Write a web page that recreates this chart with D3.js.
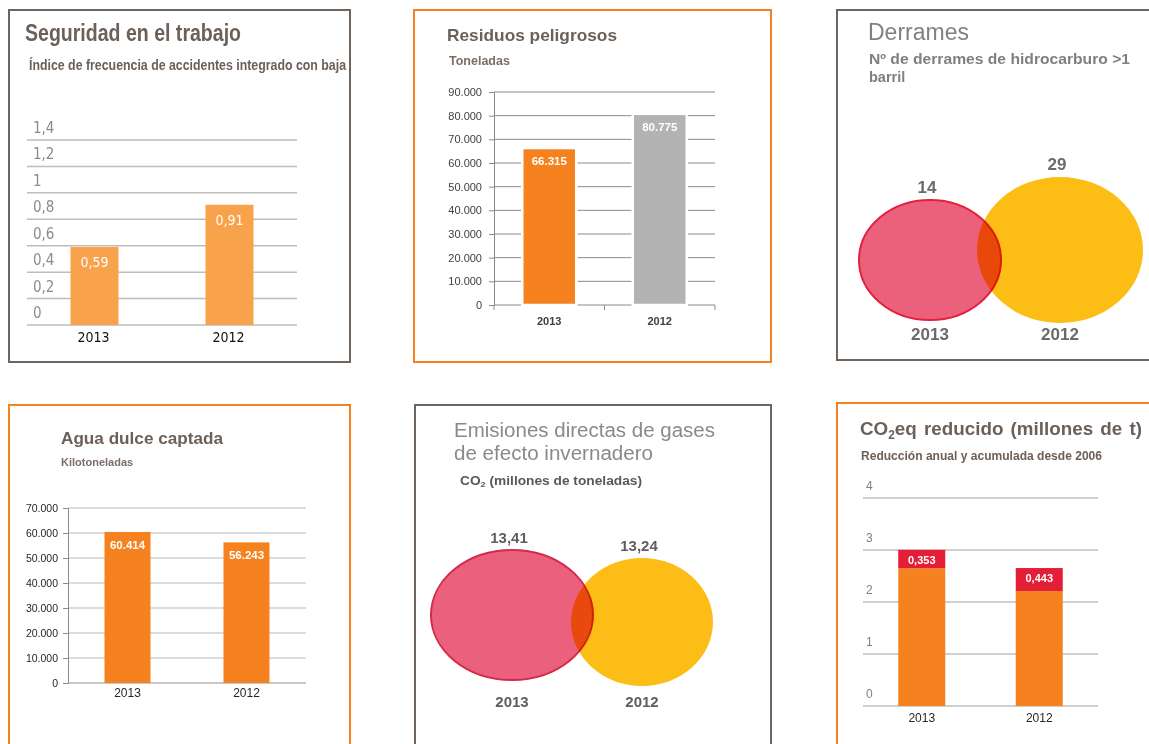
<!DOCTYPE html>
<html>
<head>
<meta charset="utf-8">
<script src="https://cdn.jsdelivr.net/npm/d3@7"></script>
<style>
  body { margin: 0; background: #fff; }
  svg { display: block; }
</style>
</head>
<body>
<svg id="chart" width="1149" height="744"></svg>
<script>
// ---- Data ----
const years = ["2013", "2012"];

const seguridadTicks = [0, 0.2, 0.4, 0.6, 0.8, 1, 1.2, 1.4];
const seguridadValues = [0.59, 0.91];

const residuosTicks = [0, 10000, 20000, 30000, 40000, 50000, 60000, 70000, 80000, 90000];
const residuosValues = [66315, 80775];

const derramesValues = [14, 29];

const aguaTicks = [0, 10000, 20000, 30000, 40000, 50000, 60000, 70000];
const aguaValues = [60414, 56243];

const emisionesValues = [13.41, 13.24];

const co2Ticks = [0, 1, 2, 3, 4];
const co2Acumulada = [2.65, 2.21];
const co2Anual = [0.353, 0.443];

// ---- Styles ----
const ORANGE = "#F5821F";
const BROWN = "#6F655C";
const TITLE = "#6C6058";
const SANS = "'Liberation Sans', Arial, sans-serif";
const NARROW = "'Liberation Sans Narrow', 'Arial Narrow', 'DejaVu Sans Condensed', sans-serif";

const es = d3.formatLocale({ decimal: ",", thousands: ".", grouping: [3], currency: ["", " €"] });
const fmtThousands = es.format(",d");
const fmtDec1 = es.format(".1~f");
const fmtDec2 = es.format(".2f");
const fmtDec3 = es.format(".3f");

const svg = d3.select("#chart");

// soft focus used by the emissions panel
svg.append("defs").append("filter").attr("id", "soft")
  .append("feGaussianBlur").attr("stdDeviation", 0.55);

function label(g, o) {
  const t = g.append("text")
    .attr("x", o.x).attr("y", o.y)
    .attr("font-family", o.family || SANS)
    .attr("font-size", o.size)
    .attr("font-weight", o.weight || "normal")
    .attr("fill", o.fill || "#000")
    .attr("text-anchor", o.anchor || "start")
    .text(o.text);
  if (o.fit) t.attr("textLength", o.fit).attr("lengthAdjust", "spacingAndGlyphs");
  return t;
}

function frame(g, x, y, w, h, color) {
  g.append("rect").attr("x", x).attr("y", y).attr("width", w).attr("height", h)
    .attr("fill", "none").attr("stroke", color).attr("stroke-width", 2);
}

// ---- 1. Seguridad en el trabajo ----
{
  const g = svg.append("g");
  frame(g, 9, 10, 341, 352, BROWN);
  label(g, { x: 25, y: 41, text: "Seguridad en el trabajo", size: 23, weight: "bold", fill: TITLE, fit: 216 });
  label(g, { x: 29, y: 70, text: "Índice de frecuencia de accidentes integrado con baja", size: 14, weight: "bold", fill: TITLE, fit: 317 });

  const y = d3.scaleLinear().domain([0, 1.4]).range([325, 140]);
  const x = d3.scalePoint().domain(years).range([27, 297]).padding(0.5);

  seguridadTicks.forEach(t => {
    g.append("line").attr("x1", 27).attr("x2", 297).attr("y1", y(t)).attr("y2", y(t))
      .attr("stroke", "#BDBDBD").attr("stroke-width", 1.5);
    label(g, { x: 33, y: y(t) - 7, text: fmtDec1(t), size: 15, family: NARROW, fill: "#8C8C8C" });
  });

  const data = years.map((yr, i) => ({ yr, v: seguridadValues[i] }));
  g.selectAll(".bar").data(data).join("rect")
    .attr("x", d => x(d.yr) - 24).attr("width", 48)
    .attr("y", d => y(d.v)).attr("height", d => y(0) - y(d.v))
    .attr("fill", "#F8A34B");
  data.forEach(d => {
    label(g, { x: x(d.yr), y: y(d.v) + 20, text: fmtDec2(d.v), size: 14, family: NARROW, fill: "#fff", anchor: "middle" });
    label(g, { x: x(d.yr) - 1, y: 342, text: d.yr, size: 14, family: NARROW, fill: "#111", anchor: "middle" });
  });
}

// ---- 2. Residuos peligrosos ----
{
  const g = svg.append("g");
  frame(g, 414, 10, 357, 352, ORANGE);
  label(g, { x: 447, y: 41, text: "Residuos peligrosos", size: 17, weight: "bold", fill: TITLE, fit: 170 });
  label(g, { x: 449, y: 65, text: "Toneladas", size: 12.5, weight: "bold", fill: "#7A6F68" });

  const y = d3.scaleLinear().domain([0, 90000]).range([305, 92]);
  const x = d3.scaleBand().domain(years).range([494, 715]);

  residuosTicks.filter(t => t > 0).forEach(t => {
    g.append("line").attr("x1", 494).attr("x2", 715).attr("y1", y(t)).attr("y2", y(t))
      .attr("stroke", "#8A8A8A").attr("stroke-width", 1);
  });

  const ax = g.append("g").attr("transform", "translate(494,0)")
    .call(d3.axisLeft(y).tickValues(residuosTicks).tickSize(5).tickPadding(7).tickFormat(fmtThousands));
  ax.select(".domain").attr("stroke", "#8A8A8A");
  ax.selectAll(".tick line").attr("stroke", "#8A8A8A");
  ax.selectAll(".tick text").attr("font-family", SANS).attr("font-size", 11).attr("fill", "#404040");

  // category axis with boundary ticks
  const edges = years.map(d => x(d)).concat([x.range()[1]]);
  g.append("line").attr("x1", 494).attr("x2", 715).attr("y1", y(0)).attr("y2", y(0)).attr("stroke", "#8A8A8A");
  edges.forEach(e => g.append("line").attr("x1", e).attr("x2", e).attr("y1", y(0)).attr("y2", y(0) + 5).attr("stroke", "#8A8A8A"));

  const colors = [ORANGE, "#B3B3B3"];
  const data = years.map((yr, i) => ({ yr, v: residuosValues[i], c: colors[i] }));
  const cx = d => x(d.yr) + x.bandwidth() / 2;
  g.selectAll(".bar").data(data).join("rect")
    .attr("x", d => cx(d) - 27).attr("width", 54)
    .attr("y", d => y(d.v)).attr("height", d => y(0) - y(d.v))
    .attr("fill", d => d.c).attr("stroke", "#fff").attr("stroke-width", 2.5);
  data.forEach(d => {
    label(g, { x: cx(d), y: y(d.v) + 17, text: fmtThousands(d.v), size: 11.5, weight: "bold", fill: "#fff", anchor: "middle" });
    label(g, { x: cx(d), y: 325, text: d.yr, size: 11, weight: "bold", fill: "#404040", anchor: "middle" });
  });
}

// ---- Overlapping-circle panels ----
function venn(g, values, o) {
  const x = d3.scalePoint().domain(years).range(o.xRange).padding(0.5);
  const rx = d3.scaleLinear().domain(o.domain).range(o.rx);
  const ry = d3.scaleLinear().domain(o.domain).range(o.ry);
  const cy = d3.scaleLinear().domain(o.domain).range(o.cy);
  const data = years.map((yr, i) => ({ yr, v: values[i] }));
  const fills = { "2013": "#EB617B", "2012": "#FCBE14" };

  // 2012 first, 2013 blended over it
  const order = [data[1], data[0]];
  g.selectAll(".blob").data(order).join("ellipse")
    .attr("cx", d => x(d.yr)).attr("cy", d => cy(d.v))
    .attr("rx", d => rx(d.v)).attr("ry", d => ry(d.v))
    .attr("fill", d => fills[d.yr])
    .attr("stroke", d => d.yr === "2013" ? o.stroke : "none")
    .attr("stroke-width", 2)
    .style("mix-blend-mode", d => d.yr === "2013" ? "multiply" : "normal");

  data.forEach(d => {
    label(g, { x: x(d.yr) - 3, y: cy(d.v) - ry(d.v) - 7, text: o.fmt(d.v), size: o.size, weight: "bold", fill: o.textFill, anchor: "middle" });
    label(g, { x: x(d.yr), y: o.yearY, text: d.yr, size: o.size, weight: "bold", fill: o.textFill, anchor: "middle" });
  });
}

// ---- 3. Derrames ----
{
  const g = svg.append("g");
  frame(g, 837, 10, 330, 350, BROWN);
  label(g, { x: 868, y: 40, text: "Derrames", size: 23, fill: "#808080" });
  label(g, { x: 869, y: 64, text: "Nº de derrames de hidrocarburo >1", size: 14.5, weight: "bold", fill: "#7F7F7F", fit: 261 });
  label(g, { x: 869, y: 82, text: "barril", size: 14.5, weight: "bold", fill: "#7F7F7F" });
  venn(g, derramesValues, {
    xRange: [865, 1125], domain: d3.extent(derramesValues),
    rx: [71, 83], ry: [60, 73], cy: [260, 250],
    stroke: "#E3213F", size: 17, textFill: "#6A6A6A", yearY: 340,
    fmt: d3.format("d")
  });
}

// ---- 4. Agua dulce captada ----
{
  const g = svg.append("g");
  frame(g, 9, 405, 341, 360, ORANGE);
  label(g, { x: 61, y: 444, text: "Agua dulce captada", size: 17, weight: "bold", fill: TITLE, fit: 162 });
  label(g, { x: 61, y: 466, text: "Kilotoneladas", size: 11, weight: "bold", fill: "#7A6F68" });

  const y = d3.scaleLinear().domain([0, 70000]).range([683, 508]);
  const x = d3.scalePoint().domain(years).range([68, 306]).padding(0.5);

  aguaTicks.forEach(t => {
    g.append("line").attr("x1", 68).attr("x2", 306).attr("y1", y(t)).attr("y2", y(t))
      .attr("stroke", t === 0 ? "#C8C8C8" : "#DCDCDC").attr("stroke-width", 2);
  });
  const ax = g.append("g").attr("transform", "translate(68,0)")
    .call(d3.axisLeft(y).tickValues(aguaTicks).tickSize(5).tickPadding(5).tickFormat(fmtThousands));
  ax.select(".domain").attr("stroke", "#8A8A8A");
  ax.selectAll(".tick line").attr("stroke", "#8A8A8A");
  ax.selectAll(".tick text").attr("font-family", SANS).attr("font-size", 10.5).attr("fill", "#262626");

  const data = years.map((yr, i) => ({ yr, v: aguaValues[i] }));
  g.selectAll(".bar").data(data).join("rect")
    .attr("x", d => x(d.yr) - 23).attr("width", 46)
    .attr("y", d => y(d.v)).attr("height", d => y(0) - y(d.v))
    .attr("fill", ORANGE);
  data.forEach(d => {
    label(g, { x: x(d.yr), y: y(d.v) + 17, text: fmtThousands(d.v), size: 11.5, weight: "bold", fill: "#fff", anchor: "middle" });
    label(g, { x: x(d.yr), y: 697, text: d.yr, size: 12, fill: "#262626", anchor: "middle" });
  });
}

// ---- 5. Emisiones directas ----
{
  const g = svg.append("g").attr("filter", "url(#soft)");
  frame(g, 415, 405, 356, 360, BROWN);
  label(g, { x: 454, y: 437, text: "Emisiones directas de gases", size: 19.5, fill: "#8A8A8A", fit: 261 });
  label(g, { x: 454, y: 460, text: "de efecto invernadero", size: 19.5, fill: "#8A8A8A", fit: 199 });
  const sub = label(g, { x: 460, y: 485, text: "", size: 12, weight: "bold", fill: "#595959" });
  sub.append("tspan").text("CO");
  sub.append("tspan").attr("font-size", 8).attr("dy", 2).text("2");
  sub.append("tspan").attr("dy", -2).text(" (millones de toneladas)");
  sub.attr("textLength", 182).attr("lengthAdjust", "spacingAndGlyphs");
  venn(g, emisionesValues, {
    xRange: [447, 707], domain: [emisionesValues[1], emisionesValues[0]],
    rx: [71, 81], ry: [64, 65], cy: [622, 615],
    stroke: "#D42B4A", size: 15, textFill: "#5E5E5E", yearY: 707,
    fmt: es.format(".2f")
  });
}

// ---- 6. CO2eq reducido ----
{
  const g = svg.append("g");
  frame(g, 837, 403, 330, 360, ORANGE);
  const title = label(g, { x: 860, y: 435, text: "", size: 19, weight: "bold", fill: TITLE });
  title.append("tspan").text("CO");
  title.append("tspan").attr("font-size", 12).attr("dy", 4).text("2");
  title.append("tspan").attr("dy", -4).attr("word-spacing", 2).text("eq reducido (millones de t)");
  title.attr("textLength", 282).attr("lengthAdjust", "spacingAndGlyphs");
  label(g, { x: 861, y: 460, text: "Reducción anual y acumulada desde 2006", size: 12, weight: "bold", fill: TITLE, fit: 241 });

  const y = d3.scaleLinear().domain([0, 4]).range([706, 498]);
  const x = d3.scalePoint().domain(years).range([863, 1098]).padding(0.5);

  co2Ticks.forEach(t => {
    g.append("line").attr("x1", 863).attr("x2", 1098).attr("y1", y(t)).attr("y2", y(t))
      .attr("stroke", "#BFBFBF").attr("stroke-width", 1.5);
    label(g, { x: 866, y: y(t) - 8, text: String(t), size: 12, fill: "#7F7F7F" });
  });

  const data = years.map((yr, i) => ({ yr, a: co2Acumulada[i], n: co2Anual[i] }));
  g.selectAll(".base").data(data).join("rect")
    .attr("x", d => x(d.yr) - 23.5).attr("width", 47)
    .attr("y", d => y(d.a)).attr("height", d => y(0) - y(d.a))
    .attr("fill", ORANGE);
  g.selectAll(".top").data(data).join("rect")
    .attr("x", d => x(d.yr) - 23.5).attr("width", 47)
    .attr("y", d => y(d.a + d.n)).attr("height", d => y(d.a) - y(d.a + d.n))
    .attr("fill", "#E31E36");
  data.forEach(d => {
    label(g, { x: x(d.yr), y: y(d.a + d.n) + 14, text: fmtDec3(d.n), size: 11, weight: "bold", fill: "#fff", anchor: "middle" });
    label(g, { x: x(d.yr), y: 722, text: d.yr, size: 12, fill: "#262626", anchor: "middle" });
  });
}
</script>
</body>
</html>
